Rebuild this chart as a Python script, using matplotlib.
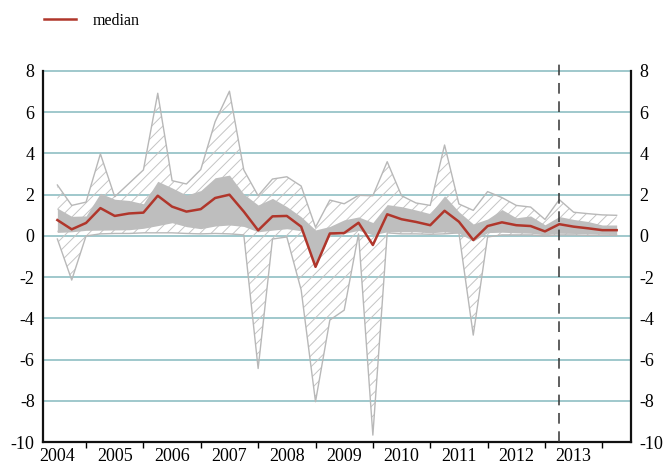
import matplotlib.pyplot as plt
import numpy as np

# quarterly, 2004Q1 .. 2013Q4
years = [str(y) for y in range(2004, 2014)]

median = [0.77, 0.32, 0.63, 1.35, 0.97, 1.09, 1.13, 1.95, 1.42, 1.18,
          1.30, 1.84, 2.00, 1.18, 0.27, 0.95, 0.97, 0.45, -1.50, 0.12,
          0.14, 0.64, -0.44, 1.05, 0.81, 0.68, 0.52, 1.22, 0.69, -0.20,
          0.48, 0.66, 0.52, 0.48, 0.22, 0.57, 0.45, 0.37, 0.28, 0.28]

band_hi = [1.35, 0.95, 0.97, 2.07, 1.78, 1.72, 1.56, 2.65, 2.33, 1.98,
           2.20, 2.82, 2.95, 2.03, 1.50, 1.82, 1.42, 0.93, 0.29, 0.46,
           0.78, 0.92, 0.65, 1.52, 1.42, 1.26, 1.08, 1.94, 1.17, 0.58,
           0.82, 1.28, 0.88, 0.97, 0.54, 0.94, 0.80, 0.70, 0.53, 0.53]

band_lo = [0.17, 0.20, 0.27, 0.28, 0.29, 0.30, 0.37, 0.50, 0.64, 0.45,
           0.35, 0.48, 0.53, 0.46, 0.20, 0.28, 0.35, 0.25, -1.50, 0.05,
           0.12, 0.27, 0.05, 0.20, 0.20, 0.20, 0.15, 0.20, 0.13, -0.25,
           0.16, 0.18, 0.15, 0.13, 0.05, 0.13, 0.12, 0.10, 0.08, 0.07]

range_hi = [2.47, 1.48, 1.64, 3.98, 1.90, 2.55, 3.20, 6.92, 2.68, 2.52,
            3.22, 5.54, 7.02, 3.20, 1.95, 2.76, 2.87, 2.42, 0.42, 1.74,
            1.56, 1.97, 1.95, 3.60, 1.95, 1.60, 1.48, 4.41, 1.55, 1.24,
            2.15, 1.86, 1.48, 1.40, 0.80, 1.76, 1.15, 1.08, 1.02, 1.00]

range_lo = [-0.15, -2.14, 0.00, 0.10, 0.12, 0.12, 0.15, 0.15, 0.15, 0.12,
            0.10, 0.12, 0.10, 0.05, -6.43, -0.15, -0.05, -2.62, -8.04, -4.08,
            -3.60, 0.10, -9.66, 0.15, 0.10, 0.10, 0.08, 0.10, 0.15, -4.81,
            -0.05, 0.05, 0.05, 0.05, 0.00, 0.05, 0.05, 0.03, 0.03, 0.03]

forecast_start = 35  # dashed line

plt.rcParams['font.family'] = ['Liberation Serif', 'DejaVu Serif']
plt.rcParams['hatch.linewidth'] = 0.7
plt.rcParams['axes.unicode_minus'] = False

x = np.arange(len(median))

fig = plt.figure(figsize=(6.64, 4.61), dpi=100)
ax = fig.add_axes([0.0648, 0.041, 0.8855, 0.805])

ax.fill_between(x, range_lo, range_hi, facecolor='none', edgecolor='#c4c4c4',
                hatch='///', linewidth=0, zorder=1)
ax.plot(x, range_hi, color='#b8b8b8', lw=1.0, zorder=2)
ax.plot(x, range_lo, color='#b8b8b8', lw=1.0, zorder=2)
ax.fill_between(x, band_lo, band_hi, color='#bebebe', linewidth=0, zorder=3)
ax.plot(x, median, color='#b0362b', lw=1.8, zorder=4, label='median')

ax.axvline(forecast_start, ymin=0, ymax=1.03, color='#333333', lw=1.1,
           dashes=(7, 5), clip_on=False, zorder=5)

ax.set_xlim(-1, 40)
ax.set_ylim(-10, 8)
ax.set_yticks(range(-10, 9, 2))
for yv in range(-8, 9, 2):
    ax.axhline(yv, color='#8fbfc3', lw=1.2, zorder=0, clip_on=False)

ax.set_xticks(x[::4])
ax.set_xticklabels(years)
ax.set_xticks(np.arange(2, 40, 4), minor=True)
ax.tick_params(axis='x', which='major', length=0, labelsize=13, pad=4)
ax.tick_params(axis='x', which='minor', length=4, width=1, direction='out')
ax.tick_params(axis='y', length=0, labelsize=13, pad=6,
               labelleft=True, labelright=True)

ax.spines['top'].set_visible(False)
for s in ['left', 'right', 'bottom']:
    ax.spines[s].set_linewidth(1.6)
    ax.spines[s].set_color('#111111')

fig.legend(loc='upper left', bbox_to_anchor=(0.067, 0.972), frameon=False,
           fontsize=11.5, handlelength=2.0, handletextpad=1.0, borderpad=0,
           borderaxespad=0)

fig.savefig('out.png', dpi=100)
